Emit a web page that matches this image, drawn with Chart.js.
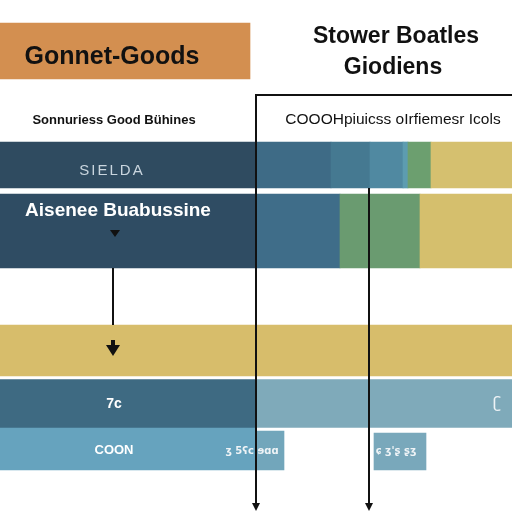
<!DOCTYPE html>
<html>
<head>
<meta charset="utf-8">
<script src="https://cdn.jsdelivr.net/npm/chart.js@4/dist/chart.umd.min.js"></script>
<style>
  body { margin: 0; background: #fff; }
  #wrap { width: 512px; height: 512px; }
</style>
</head>
<body>
<div id="wrap"><canvas id="myChart" width="512" height="512"></canvas></div>
<script>
// values
var headerSpan = [0, 250];
var sieldaEdges = [0, 256, 331, 370, 403, 408, 431, 512];
var aiseneeEdges = [0, 256, 340, 420, 512];
var goldEdges = [0, 512];
var sevenEdges = [0, 256, 512];
var coonSpans = [[0, 256], [256, 284], [374, 426]];

var titleLines = ["Stower Boatles", "Giodiens"];
var headerLabel = "Gonnet-Goods";
var leftCaption = "Sonnuriess Good Bühines";
var rightCaption = "COOOHpiuicss oIrfiemesr Icols";
var rowLabels = ["SIELDA", "Aisenee Buabussine", "", "7c", "COON"];

function spans(edges) {
  var out = [];
  for (var i = 0; i < edges.length - 1; i++) out.push([edges[i], edges[i + 1]]);
  return out;
}

function row(list, center, thick, colors) {
  return {
    data: list.map(function (s) { return { x: s, y: center }; }),
    backgroundColor: colors,
    barThickness: thick,
    borderWidth: 0,
    grouped: false
  };
}

var datasets = [
  row([headerSpan], 51, 56, ["#d38f50"]),
  row(spans(sieldaEdges), 165, 46, ["#2f4b60", "#3e6b86", "#457991", "#5089a1", "#5d9cb0", "#6c9f6f", "#d5c06f"]),
  row(spans(aiseneeEdges), 231, 74, ["#2f4c63", "#3f6d89", "#6a9b70", "#d5bf6d"]),
  row(spans(goldEdges), 350.5, 51, ["#d7bd6b"]),
  row(spans(sevenEdges), 403.5, 48, ["#3e6a82", "#7faaba"]),
  row([coonSpans[0]], 448.5, 43, ["#66a3be"]),
  row([coonSpans[1]], 450.5, 39, ["#72a6bb"]),
  row([coonSpans[2]], 451.5, 37, ["#79a8bb"])
];

var overlay = {
  id: "overlay",
  afterDatasetsDraw: function (chart) {
    var ctx = chart.ctx;
    var sx = chart.scales.x, sy = chart.scales.y;
    function px(v) { return sx.getPixelForValue(v); }
    function py(v) { return sy.getPixelForValue(v); }
    ctx.save();

    // connector lines
    ctx.strokeStyle = "#111";
    ctx.fillStyle = "#111";
    ctx.lineWidth = 2;
    ctx.beginPath();
    ctx.moveTo(px(512), py(95)); ctx.lineTo(px(256), py(95)); ctx.lineTo(px(256), py(503));
    ctx.moveTo(px(369), py(188)); ctx.lineTo(px(369), py(503));
    ctx.moveTo(px(113), py(268)); ctx.lineTo(px(113), py(325));
    ctx.stroke();

    function tri(x, y, w, h) {
      ctx.beginPath();
      ctx.moveTo(px(x) - w, py(y) - h);
      ctx.lineTo(px(x) + w, py(y) - h);
      ctx.lineTo(px(x), py(y));
      ctx.closePath();
      ctx.fill();
    }
    tri(256, 511, 4, 8);
    tri(369, 511, 4, 8);
    tri(115, 237, 5, 7);
    // small arrow in gold band
    ctx.fillRect(px(111), py(340), 4, 6);
    ctx.beginPath();
    ctx.moveTo(px(106), py(345)); ctx.lineTo(px(120), py(345)); ctx.lineTo(px(113), py(356));
    ctx.closePath(); ctx.fill();

    ctx.textAlign = "center";
    ctx.textBaseline = "middle";

    ctx.fillStyle = "#111";
    ctx.font = "bold 25px 'Liberation Sans', sans-serif";
    ctx.fillText(headerLabel, px(112), py(57));
    ctx.font = "bold 23px 'Liberation Sans', sans-serif";
    ctx.fillText(titleLines[0], px(396), py(37));
    ctx.fillText(titleLines[1], px(393), py(68));

    ctx.font = "bold 13px 'Liberation Sans', sans-serif";
    ctx.fillText(leftCaption, px(114), py(120));
    ctx.font = "15.5px 'Liberation Sans', sans-serif";
    ctx.fillText(rightCaption, px(393), py(120));

    ctx.fillStyle = "#c9d5de";
    ctx.font = "15px 'Liberation Sans', sans-serif";
    ctx.letterSpacing = "2px";
    ctx.fillText(rowLabels[0], px(112), py(171));
    ctx.letterSpacing = "0px";

    ctx.fillStyle = "#fff";
    ctx.font = "bold 19px 'Liberation Sans', sans-serif";
    ctx.fillText(rowLabels[1], px(118), py(211));

    ctx.font = "bold 14px 'Liberation Sans', sans-serif";
    ctx.fillText(rowLabels[3], px(114), py(404));
    ctx.font = "bold 13px 'Liberation Sans', sans-serif";
    ctx.fillText(rowLabels[4], px(114), py(450));

    ctx.fillStyle = "#eef3f6";
    ctx.font = "bold 10px 'DejaVu Sans', sans-serif";
    ctx.fillText("ʒ 5ʕc ɘɑɑ", px(252), py(451));
    ctx.fillText("ɕ ʒ'ʂ ʂʒ", px(396), py(451));
    ctx.font = "16px 'DejaVu Sans', sans-serif";
    ctx.fillText("ʗ", px(497), py(404));

    ctx.restore();
  }
};

new Chart("myChart", {
  type: "bar",
  data: { datasets: datasets },
  options: {
    indexAxis: "y",
    responsive: false,
    animation: false,
    layout: { padding: 0 },
    scales: {
      x: { type: "linear", min: 0, max: 512, display: false },
      y: { type: "linear", min: 0, max: 512, reverse: true, offset: false, display: false }
    },
    plugins: { legend: { display: false }, tooltip: { enabled: false } }
  },
  plugins: [overlay]
});
</script>
</body>
</html>
